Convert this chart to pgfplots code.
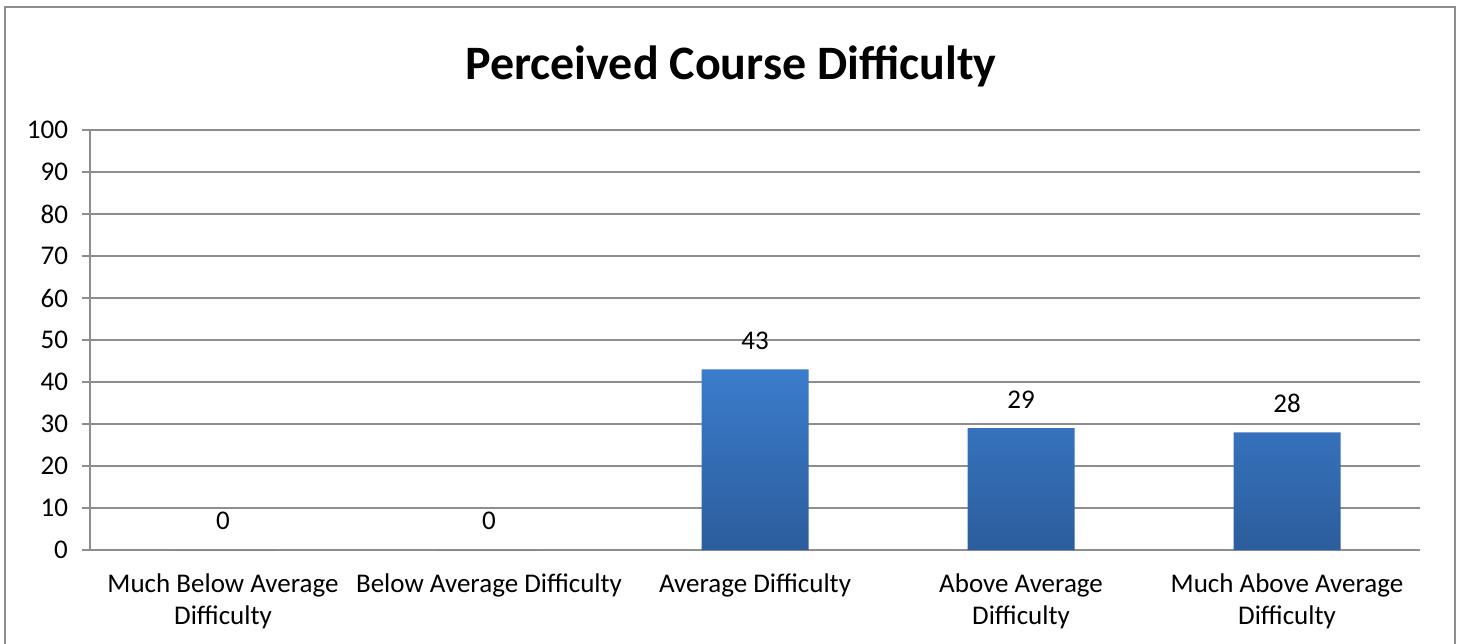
\documentclass[border=0pt]{standalone}
\usepackage{pgfplots}
\pgfplotsset{compat=1.18}
\usepackage{fontspec}
\setmainfont{Carlito}
\definecolor{bartop}{HTML}{3B7CCC}
\definecolor{barbot}{HTML}{2C5D9C}
\definecolor{gridgray}{HTML}{8E8E8E}
\begin{document}
\begin{tikzpicture}
\useasboundingbox (0pt,0pt) rectangle (731pt,321.5pt);
\draw[gridgray, line width=1.3pt] (2.5pt,-10pt) rectangle (727.5pt,318pt);
\node[font=\bfseries\fontsize{24}{28}\selectfont] at (365.5pt,288.5pt) {Perceived Course Difficulty};
\begin{axis}[
  at={(45pt,46.5pt)}, anchor=south west,
  scale only axis, width=665pt, height=210pt,
  xmin=-0.5, xmax=4.5, ymin=0, ymax=100,
  ytick={0,10,...,100},
  xtick={0,1,2,3,4},
  xticklabels={Much Below Average\\Difficulty, Below Average Difficulty, Average Difficulty, Above Average\\Difficulty, Much Above Average\\Difficulty},
  xticklabel style={align=center, font=\fontsize{13.5}{16}\selectfont, yshift=-4.5pt},
  yticklabel style={font=\fontsize{13.5}{16}\selectfont, xshift=-3.5pt},
  /pgf/number format/assume math mode=true,
  major x tick style={draw=none},
  extra x ticks={-0.5,0.5,1.5,2.5,3.5,4.5},
  extra x tick labels={},
  extra x tick style={grid=none, major tick length=4pt, tick style={gridgray, line width=0.8pt}, tick align=outside},
  tick align=outside, major tick length=4pt,
  ytick style={gridgray, line width=0.8pt},
  ymajorgrids, grid style={gridgray, line width=1pt},
  axis x line*=bottom, axis y line*=left,
  axis line style={gridgray, line width=1pt},
  x axis line style={-}, y axis line style={-},
  ybar, bar width=53.5pt,
  nodes near coords,
  every node near coord/.append style={font=\fontsize{13.5}{16}\selectfont, yshift=6.5pt},
  clip=false,
]
\addplot[draw=none, top color=bartop, bottom color=barbot] coordinates {(0,0) (1,0) (2,43) (3,29) (4,28)};
\end{axis}
\end{tikzpicture}
\end{document}
